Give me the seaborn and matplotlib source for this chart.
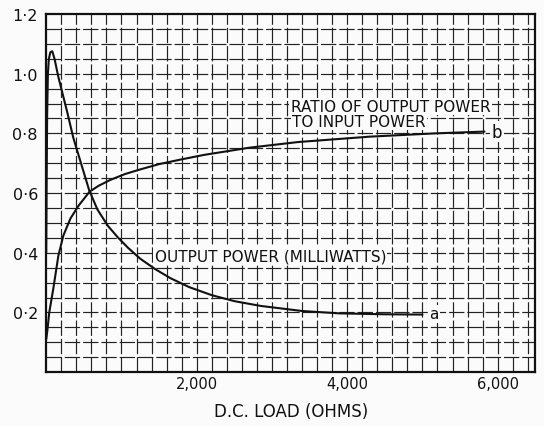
import matplotlib
matplotlib.use("Agg")
import matplotlib.pyplot as plt
import seaborn as sns
import pandas as pd

# D.C. load in ohms and the two measured curves
load_a = [0, 5, 12, 22, 35, 55, 80, 110, 160, 220, 280, 360, 480, 570, 680, 820,
          950, 1090, 1250, 1450, 1650, 1900, 2200, 2500, 2850, 3400, 3900, 4500,
          5000]
output_power_mw = [0.40, 0.62, 0.86, 1.00, 1.05, 1.072, 1.075, 1.05, 0.99, 0.93,
                   0.87, 0.785, 0.685, 0.61, 0.545, 0.49, 0.452, 0.416, 0.38,
                   0.345, 0.315, 0.285, 0.258, 0.238, 0.222, 0.205, 0.197, 0.194,
                   0.193]

load_b = [0, 15, 40, 94, 161, 228, 322, 430, 577, 700, 860, 1050, 1260, 1500,
          1800, 2100, 2700, 3350, 4300, 5170, 5825]
power_ratio = [0.11, 0.14, 0.20, 0.28, 0.39, 0.458, 0.515, 0.558, 0.605, 0.625,
               0.645, 0.664, 0.68, 0.697, 0.713, 0.728, 0.752, 0.771, 0.789,
               0.80, 0.806]

y_ticks = [0.2, 0.4, 0.6, 0.8, 1.0, 1.2]
y_tick_labels = ["0·2", "0·4", "0·6", "0·8", "1·0", "1·2"]
x_ticks = [2000, 4000, 6000]
x_tick_labels = ["2,000", "4,000", "6,000"]

sns.set_style("white")
plt.rcParams["font.family"] = ["DejaVu Sans"]

fig = plt.figure(figsize=(5.44, 4.27), dpi=100, facecolor="#fbfbfb")
ax = fig.add_axes([0.085, 0.126, 0.899, 0.839])
ax.set_facecolor("#fbfbfb")

df_a = pd.DataFrame({"load": load_a, "value": output_power_mw})
df_b = pd.DataFrame({"load": load_b, "value": power_ratio})
sns.lineplot(data=df_a, x="load", y="value", ax=ax, color="#111111", lw=1.5,
             sort=False, zorder=3)
sns.lineplot(data=df_b, x="load", y="value", ax=ax, color="#111111", lw=1.5,
             sort=False, zorder=3)

ax.set_xlim(0, 6500)
ax.set_ylim(0, 1.2)

# fine graph-paper grid
grid_kw = dict(color="#222222", lw=0.85, ls=(0, (13, 2.5)), zorder=1)
for gx in range(200, 6500, 200):
    ax.axvline(gx, **grid_kw)
for i in range(1, 24):
    ax.axhline(i * 0.05, **grid_kw)

ax.set_xticks(x_ticks)
ax.set_xticklabels(x_tick_labels, fontsize=10.5, color="#111111")
ax.set_yticks(y_ticks)
ax.set_yticklabels(y_tick_labels, fontsize=11.5, color="#111111")
ax.tick_params(axis="both", length=0)
ax.tick_params(axis="x", pad=3)
ax.tick_params(axis="y", pad=6)
ax.set_xlabel("D.C. LOAD (OHMS)", fontsize=12, color="#111111", labelpad=8)
ax.set_ylabel("")

for s in ax.spines.values():
    s.set_color("#111111")
    s.set_linewidth(1.6)
    s.set_visible(True)

box = dict(facecolor="#fbfbfb", edgecolor="none", pad=1.0)
ax.text(3250, 0.89, "RATIO OF OUTPUT POWER", fontsize=11, ha="left", va="center",
        color="#111111", bbox=box, zorder=4)
ax.text(3270, 0.84, "TO INPUT POWER", fontsize=11, ha="left", va="center",
        color="#111111", bbox=box, zorder=4)
ax.text(1440, 0.388, "OUTPUT POWER (MILLIWATTS)", fontsize=11, ha="left",
        va="center", color="#111111", bbox=box, zorder=4)
ax.text(5090, 0.195, "a", fontsize=11, ha="left", va="center", color="#111111",
        bbox=box, zorder=4)
ax.text(5920, 0.806, "b", fontsize=12, ha="left", va="center", color="#111111",
        bbox=box, zorder=4)

fig.savefig("out.png", dpi=100, facecolor=fig.get_facecolor())
